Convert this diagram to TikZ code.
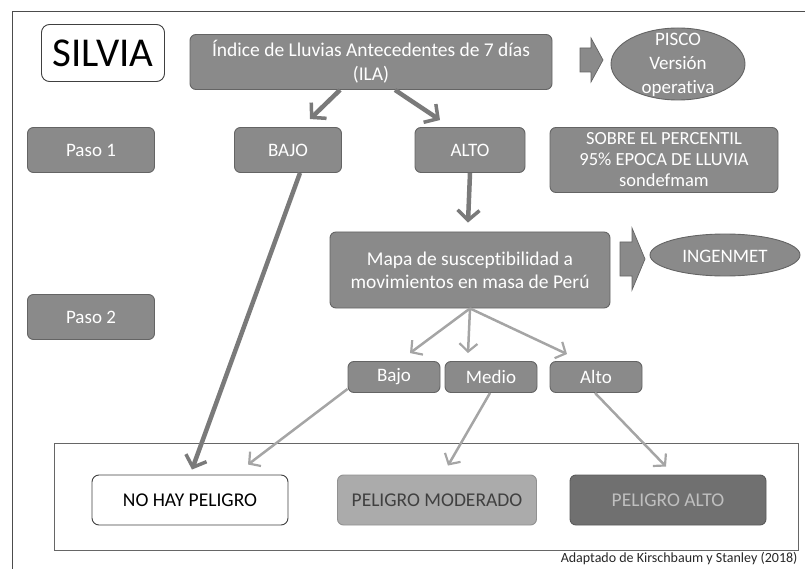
\documentclass[tikz,border=0pt]{standalone}
\usepackage{fontspec}
\setmainfont{Carlito}[Ligatures=NoCommon]
\usetikzlibrary{arrows.meta,shapes.geometric,calc}
\definecolor{boxg}{HTML}{8A8A8A}
\definecolor{boxd}{HTML}{646464}
\definecolor{lightg}{HTML}{ABABAB}
\definecolor{darkg}{HTML}{707070}
\definecolor{arrg}{HTML}{7A7A7A}
\definecolor{arrl}{HTML}{A5A5A5}
\tikzset{
  gbox/.style={draw=boxd, fill=boxg, rounded corners=6pt, line width=0.9pt, text=white, align=center, inner sep=2pt, font=\fontsize{19}{22}\selectfont},
  wbox/.style={draw=black!75, fill=white, rounded corners=8pt, line width=0.9pt, align=center, inner sep=2pt},
  gell/.style={ellipse, draw=boxd, fill=boxg, line width=0.9pt, inner sep=0pt},
  elltext/.style={text=white, align=center, inner sep=0pt, font=\fontsize{19}{24}\selectfont},
  blockarr/.style={draw=boxd, fill=boxg, line width=0.7pt},
  thickarr/.style={draw=arrg, line width=4.5pt, -{Straight Barb[length=10pt,width=22pt,line width=3.5pt]}},
  thinarr/.style={draw=arrl, line width=2.5pt, -{Straight Barb[length=8pt,width=18pt,line width=2.2pt]}}
}
\begin{document}
\begin{tikzpicture}[x=1pt,y=-1pt]
\useasboundingbox (0,0) rectangle (805,569);
% outer frame
\draw[black!70, line width=1pt] (12,569) -- (12,12) -- (805,12);
% bottom group frame
\draw[black!60, line width=0.8pt] (54,443) rectangle (798,550);

\node[wbox, minimum width=123pt, minimum height=57pt, font=\fontsize{41}{44}\selectfont] (silvia) at (103,53) {SILVIA};
\node[gbox, minimum width=362pt, minimum height=55pt, font=\fontsize{19.5}{24}\selectfont] (ila) at (371,62) {Índice de Lluvias Antecedentes de 7 días\\(ILA)};
% block arrow 1
\draw[blockarr] (580,48) -- (591,48) -- (591,38) -- (603,60) -- (591,82) -- (591,72) -- (580,72) -- cycle;
\node[gell, minimum width=134pt, minimum height=72pt] (pisco) at (678,64) {};
\node[elltext] (piscot) at ([yshift=-1pt]pisco.center) {PISCO\\Versión\\operativa};

\node[gbox, minimum width=127pt, minimum height=45pt] (paso1) at (91,150) {Paso 1};
\node[gbox, minimum width=107pt, minimum height=45pt] (bajoA) at (288,150) {BAJO};
\node[gbox, minimum width=110pt, minimum height=45pt] (altoA) at (470,150) {ALTO};
\node[gbox, minimum width=228pt, minimum height=65pt, font=\fontsize{18.5}{21}\selectfont] (sobre) at (664,160) {SOBRE EL PERCENTIL\\95\% EPOCA DE LLUVIA\\sondefmam};

\node[gbox, minimum width=280pt, minimum height=76pt, font=\fontsize{19.5}{23}\selectfont] (mapa) at (470,270) {Mapa de susceptibilidad a\\movimientos en masa de Perú};
% block arrow 2
\draw[blockarr] (620,242) -- (632,242) -- (632,228) -- (645,259) -- (632,290) -- (632,276) -- (620,276) -- cycle;
\node[gell, minimum width=150pt, minimum height=42pt] (ingen) at (725,255) {};
\node[elltext] (ingent) at ([yshift=-1pt]ingen.center) {INGENMET};

\node[gbox, minimum width=127pt, minimum height=45pt] (paso2) at (91,317) {Paso 2};

\node[gbox, minimum width=92pt, minimum height=31pt] (bajoB) at (394,377) {Bajo};
\node[gbox, minimum width=92pt, minimum height=31pt] (medioB) at (491,377) {Medio};
\node[gbox, minimum width=92pt, minimum height=31pt] (altoB) at (596,377) {Alto};

\node[wbox, minimum width=196pt, minimum height=50pt, rounded corners=7pt, font=\fontsize{19.5}{22}\selectfont] (nohay) at (190,500) {NO HAY PELIGRO};
\node[gbox, fill=lightg, draw=lightg!85!black, text=black!75, minimum width=199pt, minimum height=50pt, font=\fontsize{19.5}{22}\selectfont] (mod) at (437,500) {PELIGRO MODERADO};
\node[gbox, fill=darkg, draw=darkg!80!black, text=black!25, minimum width=196pt, minimum height=50pt, font=\fontsize{19.5}{22}\selectfont] (palto) at (668,500) {PELIGRO ALTO};

\node[anchor=east, font=\fontsize{14}{16}\selectfont, text=black!85] (cap) at (801,559) {Adaptado de Kirschbaum y Stanley (2018)};

% thick arrows
\draw[thickarr] ([xshift=-31pt]ila.south) -- ([xshift=22pt,yshift=8pt]bajoA.north);
\draw[thickarr] ([xshift=24pt]ila.south) -- ([xshift=-30pt,yshift=7pt]altoA.north);
\draw[thickarr] (altoA.south) -- ([xshift=-2pt,yshift=9pt]mapa.north);
\draw[thickarr] ([xshift=12pt]bajoA.south) -- ([xshift=2pt,yshift=5pt]nohay.north);
% thin arrows
\draw[thinarr] (mapa.south) -- ([xshift=16pt,yshift=8pt]bajoB.north);
\draw[thinarr] (mapa.south) -- ([xshift=-23pt,yshift=8pt]medioB.north);
\draw[thinarr] (mapa.south) -- ([xshift=-29pt,yshift=7pt]altoB.north);
\draw[thinarr] ([yshift=4pt]bajoB.south west) -- ([xshift=58pt,yshift=10pt]nohay.north);
\draw[thinarr] ([xshift=-1pt]medioB.south) -- ([xshift=11pt,yshift=9pt]mod.north);
\draw[thinarr] ([xshift=-1pt]altoB.south) -- ([xshift=-2pt,yshift=8pt]palto.north);
\end{tikzpicture}
\end{document}
